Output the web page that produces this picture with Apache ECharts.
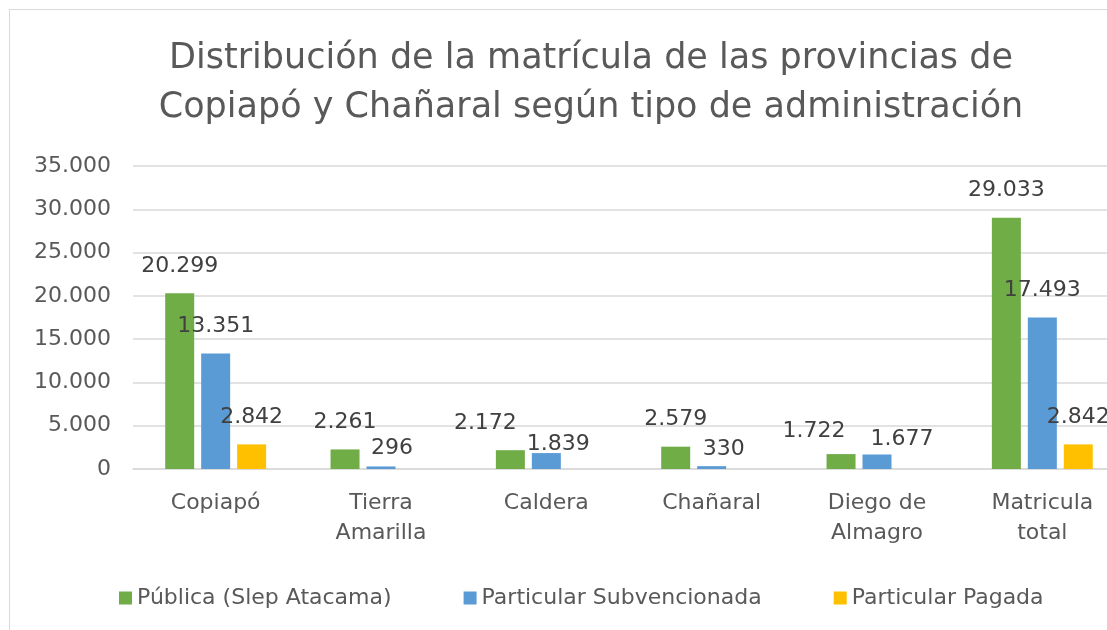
<!doctype html>
<html>
<head>
    <title>Matrícula Copiapó y Chañaral</title>
    <script src="https://cdn.jsdelivr.net/npm/echarts@6/dist/echarts.min.js"></script>
</head>
<style>
    html, body {
        margin: 0;
        padding: 0;
        width: 100%;
        height: 100%;
        overflow: hidden;
        background: #fff;
    }
    #EChartParent {
        position: absolute;
        left: 9px;
        top: 9px;
        width: 1140px;
        height: 640px;
        border: 1px solid #d9d9d9;
    }
</style>
<body>
<div id="EChartParent"></div>
<script>
  var categories = ['Copiapó', 'Tierra\nAmarilla', 'Caldera', 'Chañaral', 'Diego de\nAlmagro', 'Matricula\ntotal'];
  var publica = [20299, 2261, 2172, 2579, 1722, 29033];
  var subvencionada = [13351, 296, 1839, 330, 1677, 17493];
  var pagada = [2842, null, null, null, null, 2842];
  var seriesNames = ['Pública (Slep Atacama)', 'Particular Subvencionada', 'Particular Pagada'];
  var colors = ['#70ad47', '#5b9bd5', '#ffc000'];

  // label nudges so the small-bar labels sit like in the original (Excel moved them apart)
  var labelShift = [
    { 2: [-25, 0], 4: [-27, 4] },
    { 1: [11, 9], 2: [12, 18], 3: [12, 10], 4: [25, 12] },
    {}
  ];

  var font = 'DejaVu Sans';

  function miles(v) {
    return String(v).replace(/\B(?=(\d{3})+(?!\d))/g, '.');
  }

  var myChart = echarts.init(document.getElementById('EChartParent'));

  function barSeries(i, data) {
    return {
      name: seriesNames[i],
      type: 'bar',
      data: data.map(function (v, j) {
        var item = { value: v };
        if (labelShift[i][j]) item.label = { offset: labelShift[i][j] };
        return item;
      }),
      barWidth: 29,
      barGap: '24%',
      itemStyle: { color: colors[i] },
      label: {
        show: true,
        position: 'top',
        distance: 16,
        fontFamily: font,
        fontSize: 22,
        color: '#404040',
        formatter: function (p) { return miles(p.value); }
      }
    };
  }

  var option = {
    animation: false,
    title: {
      text: 'Distribución de la matrícula de las provincias de\nCopiapó y Chañaral según tipo de administración',
      left: 576,
      textAlign: 'center',
      top: 19,
      textStyle: {
        fontFamily: font,
        fontWeight: 'normal',
        fontSize: 35,
        lineHeight: 49,
        color: '#595959'
      }
    },
    legend: {
      left: 104,
      top: 572,
      icon: 'rect',
      itemWidth: 13,
      itemHeight: 13,
      itemGap: 72,
      textStyle: { fontFamily: font, fontSize: 22, color: '#595959' },
      data: seriesNames
    },
    grid: {
      left: 123,
      right: 25,
      top: 156,
      bottom: 181
    },
    xAxis: {
      type: 'category',
      data: categories,
      axisLine: { lineStyle: { color: '#d9d9d9', width: 1.5 } },
      axisTick: { show: false },
      axisLabel: {
        fontFamily: font,
        fontSize: 22,
        lineHeight: 30,
        color: '#595959',
        margin: 19,
        interval: 0
      }
    },
    yAxis: {
      type: 'value',
      min: 0,
      max: 35000,
      interval: 5000,
      splitLine: { lineStyle: { color: '#d9d9d9', width: 1.5 } },
      axisLine: { show: false },
      axisTick: { show: false },
      axisLabel: {
        fontFamily: font,
        fontSize: 22,
        color: '#595959',
        margin: 22,
        formatter: miles
      }
    },
    series: [
      barSeries(0, publica),
      barSeries(1, subvencionada),
      barSeries(2, pagada)
    ]
  };

  myChart.setOption(option);
</script>
</body>
</html>
